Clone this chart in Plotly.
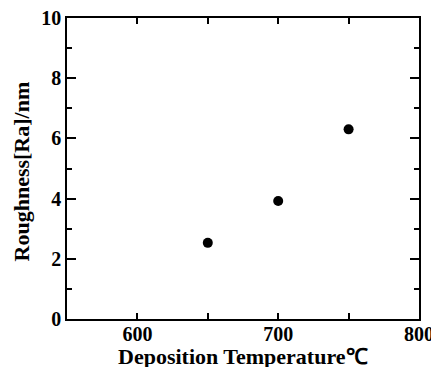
import plotly.graph_objects as go

temperature = [650, 700, 750]
roughness = [2.53, 3.92, 6.30]

x_tickvals = [600, 700, 800]
y_tickvals = [0, 2, 4, 6, 8, 10]

x_title = "Deposition Temperature℃"
y_title = "Roughness[Ra]/nm"

font_family = "Liberation Serif, Times New Roman, serif"

fig = go.Figure()
fig.add_trace(go.Scatter(
    x=temperature, y=roughness, mode="markers",
    marker=dict(color="black", size=10, symbol="circle"),
    showlegend=False,
))

axis_common = dict(
    showline=True, linecolor="black", linewidth=1.5, mirror="ticks",
    ticks="inside", tickcolor="black", tickwidth=1.5,
    showgrid=False, zeroline=False, automargin=False,
    ticklabeloverflow="allow",
    tickfont=dict(family=font_family, size=20, color="black", weight="bold"),
)

fig.update_xaxes(
    range=[550, 800], tickvals=x_tickvals, ticklen=6, ticklabelstandoff=-4,
    minor=dict(ticks="inside", ticklen=6, tickcolor="black", tickwidth=1.5, dtick=50, tick0=550, showgrid=False),
    **axis_common,
)
fig.update_yaxes(
    range=[0, 10], tickvals=y_tickvals, ticklen=9,
    minor=dict(ticks="inside", ticklen=5, tickcolor="black", tickwidth=1.5, dtick=1, tick0=0, showgrid=False),
    **axis_common,
)

fig.add_annotation(
    text=x_title, xref="paper", yref="paper", x=0.5, y=-0.124,
    xanchor="center", yanchor="middle", showarrow=False,
    font=dict(family=font_family, size=22, color="black", weight="bold"),
)
fig.add_annotation(
    text=y_title, xref="paper", yref="paper", x=-0.128, y=0.49,
    xanchor="center", yanchor="middle", showarrow=False, textangle=-90,
    font=dict(family=font_family, size=22, color="black", weight="bold"),
)

# the page draws the figure 8px in from its top-left corner
fig.update_layout(
    width=439, height=367,
    margin=dict(l=59, r=28, t=10, b=56),
    plot_bgcolor="white", paper_bgcolor="white",
)

fig.write_html("out.html")
